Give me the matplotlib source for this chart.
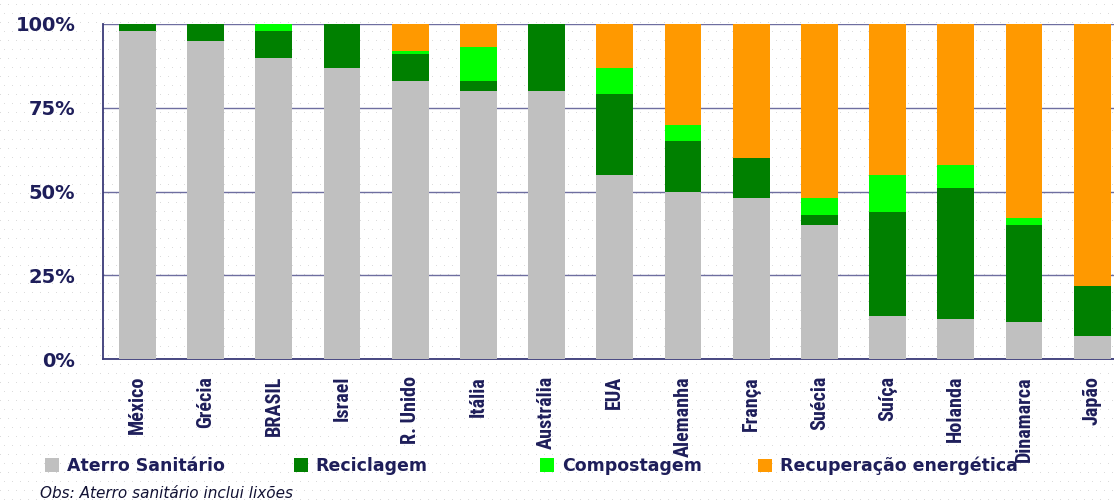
import numpy as np
import matplotlib
matplotlib.use("Agg")
import matplotlib.pyplot as plt
from matplotlib.ticker import FixedLocator, FuncFormatter

# Destination of municipal solid waste by country (share of total)
countries = ["México", "Grécia", "BRASIL", "Israel", "R. Unido", "Itália", "Austrália",
             "EUA", "Alemanha", "França", "Suécia", "Suíça", "Holanda", "Dinamarca", "Japão"]
aterro = [98, 95, 90, 87, 83, 80, 80, 55, 50, 48, 40, 13, 12, 11, 7]
reciclagem = [2, 5, 8, 13, 8, 3, 20, 24, 15, 12, 3, 31, 39, 29, 15]
compostagem = [0, 0, 2, 0, 1, 10, 0, 8, 5, 0, 5, 11, 7, 2, 0]
recuperacao = [0, 0, 0, 0, 8, 7, 0, 13, 30, 40, 52, 45, 42, 58, 78]

series = [
    ("Aterro Sanitário", aterro, "#C0C0C0"),
    ("Reciclagem", reciclagem, "#008000"),
    ("Compostagem", compostagem, "#00FF00"),
    ("Recuperação energética", recuperacao, "#FF9900"),
]
y_ticks = [0, 25, 50, 75, 100]
note = "Obs: Aterro sanitário inclui lixões"

NAVY = "#1E1E5A"
GRID = "#6E6EA0"

W, H = 1114, 503
fig = plt.figure(figsize=(W / 100, H / 100), dpi=100)
fig.patch.set_facecolor("white")

# faint dotted slide background
bg = np.ones((H, W, 4))
bg[..., 3] = 0.0
dot = np.array([0.86, 0.86, 0.86, 1.0])
for r, yy in enumerate(range(4, H, 9)):
    off = 0 if r % 2 == 0 else 4
    bg[yy, off::8] = dot
fig.figimage(bg, xo=0, yo=0, origin="upper", zorder=-5)

def fx(px):
    return px / W

def fy(py):
    return 1 - py / H

ax = fig.add_axes([fx(103), fy(359.3), fx(1114) - fx(103), fy(24) - fy(359.3)])
ax.set_facecolor("none")

x = np.arange(len(countries))
bottom = np.zeros(len(countries))
containers = []
for name, vals, color in series:
    vals = np.array(vals, dtype=float)
    bc = ax.bar(x, vals, width=0.54, bottom=bottom, color=color, label=name,
                zorder=3, linewidth=0)
    containers.append(bc)
    bottom += vals

ax.set_xlim(-0.506, 14.32)
ax.set_ylim(0, 100)
ax.yaxis.set_major_locator(FixedLocator(y_ticks))
ax.yaxis.set_major_formatter(FuncFormatter(lambda v, p: f"{int(v)}%"))
ax.grid(axis="y", color=GRID, linewidth=1.0, zorder=1)
ax.set_axisbelow(True)

for s in ["top", "right"]:
    ax.spines[s].set_visible(False)
for s in ["left", "bottom"]:
    ax.spines[s].set_color("#3A3A78")
    ax.spines[s].set_linewidth(1.3)

ax.tick_params(axis="y", length=0, pad=20, labelcolor=NAVY)
for lab in ax.get_yticklabels():
    lab.set_fontfamily("DejaVu Sans")
    lab.set_fontweight("bold")
    lab.set_fontsize(14)

ax.set_xticks(x)
ax.set_xticklabels(countries, rotation=90, va="top", ha="center",
                   fontfamily=["Roboto Condensed", "Noto Sans"], fontstretch="condensed",
                   fontweight="bold", fontsize=14.5, color=NAVY)
ax.tick_params(axis="x", length=0, pad=12)

# one legend per series so each entry sits at its own place
legend_x = [45, 294, 540, 758]
for (bc, (name, _, _)), lx in zip(zip(containers, series), legend_x):
    leg = fig.legend([bc], [name], loc="center left",
                     bbox_to_anchor=(fx(lx), fy(466)), frameon=False,
                     borderpad=0, borderaxespad=0, handlelength=0.8,
                     handleheight=0.8, handletextpad=0.45,
                     prop={"family": "DejaVu Sans", "weight": "bold", "size": 12.5})
    for t in leg.get_texts():
        t.set_color(NAVY)

fig.text(fx(40), fy(494), note, fontsize=11, style="oblique",
         fontfamily="DejaVu Sans", color="#111133", va="center", ha="left")

fig.savefig("out.png", dpi=100)
